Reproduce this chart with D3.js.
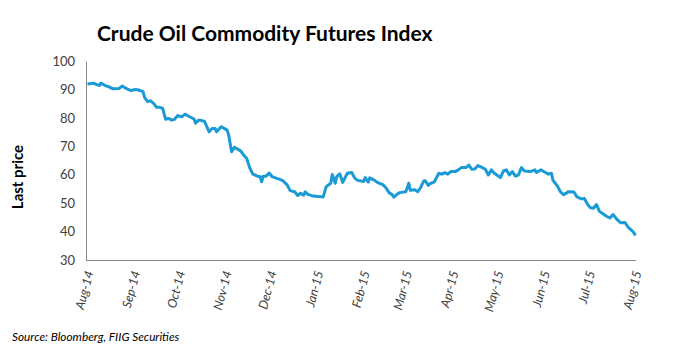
<!DOCTYPE html>
<html>
<head>
<meta charset="utf-8">
<script src="https://cdn.jsdelivr.net/npm/d3@7/dist/d3.min.js"></script>
<style>
  html, body { margin: 0; padding: 0; background: #fff; }
  svg { display: block; }
</style>
</head>
<body>
<svg id="chart" width="682" height="363"></svg>
<script>
const title = "Crude Oil Commodity Futures Index";
const yAxisTitle = "Last price";
const sourceText = "Source: Bloomberg, FIIG Securities";
const yTicks = [30, 40, 50, 60, 70, 80, 90, 100];

const dates = [
"2014-08-02","2014-08-06","2014-08-08","2014-08-10","2014-08-11","2014-08-14","2014-08-16","2014-08-19","2014-08-23","2014-08-25",
"2014-08-28","2014-08-31","2014-09-03","2014-09-05","2014-09-08","2014-09-09","2014-09-11","2014-09-13","2014-09-15","2014-09-17",
"2014-09-19","2014-09-21","2014-09-23","2014-09-25","2014-09-27","2014-09-29","2014-10-01","2014-10-04","2014-10-06","2014-10-09",
"2014-10-12","2014-10-13","2014-10-15","2014-10-16","2014-10-19","2014-10-22","2014-10-24","2014-10-26","2014-10-27","2014-10-30",
"2014-11-03","2014-11-04","2014-11-06","2014-11-08","2014-11-10","2014-11-12","2014-11-14","2014-11-16","2014-11-18","2014-11-20",
"2014-11-23","2014-11-25","2014-11-26","2014-11-27","2014-11-29","2014-12-01","2014-12-03","2014-12-06","2014-12-08","2014-12-10",
"2014-12-13","2014-12-15","2014-12-18","2014-12-20","2014-12-22","2014-12-24","2014-12-25","2014-12-27","2014-12-28","2014-12-30",
"2015-01-03","2015-01-06","2015-01-08","2015-01-11","2015-01-12","2015-01-14","2015-01-15","2015-01-17","2015-01-19","2015-01-22",
"2015-01-25","2015-01-27","2015-01-29","2015-02-02","2015-02-03","2015-02-05","2015-02-06","2015-02-09","2015-02-11","2015-02-15",
"2015-02-17","2015-02-19","2015-02-21","2015-02-22","2015-02-24","2015-02-26","2015-03-02","2015-03-04","2015-03-05","2015-03-08",
"2015-03-10","2015-03-12","2015-03-14","2015-03-15","2015-03-17","2015-03-18","2015-03-21","2015-03-24","2015-03-26","2015-03-28",
"2015-03-30","2015-04-01","2015-04-04","2015-04-06","2015-04-08","2015-04-11","2015-04-13","2015-04-15","2015-04-17","2015-04-19",
"2015-04-22","2015-04-24","2015-04-26","2015-04-28","2015-04-30","2015-05-04","2015-05-06","2015-05-08","2015-05-10","2015-05-12",
"2015-05-14","2015-05-16","2015-05-18","2015-05-20","2015-05-24","2015-05-27","2015-05-28","2015-05-31","2015-06-03","2015-06-05",
"2015-06-07","2015-06-08","2015-06-11","2015-06-13","2015-06-15","2015-06-17","2015-06-18","2015-06-22","2015-06-24","2015-06-27",
"2015-06-29","2015-07-01","2015-07-03","2015-07-05","2015-07-07","2015-07-09","2015-07-12","2015-07-14","2015-07-16","2015-07-18",
"2015-07-21","2015-07-23","2015-07-26","2015-07-28","2015-07-31","2015-08-02"
];

const prices = [
91.9,92.2,91.7,91.4,92.2,91.3,91.0,90.2,90.3,91.2,
90.3,89.6,90.0,89.8,89.2,87.2,85.7,86.0,85.1,83.7,
83.7,83.4,79.5,79.8,79.2,79.5,80.8,80.4,81.3,80.4,
79.6,78.1,79.2,79.2,78.7,75.1,76.3,76.3,75.1,76.9,
75.7,74.0,68.1,69.7,69.0,68.4,66.9,65.8,62.5,60.3,
59.5,59.3,57.5,59.5,59.5,60.6,59.3,58.7,58.4,57.9,
56.4,54.4,54.0,52.7,53.5,52.8,54.0,53.0,52.9,52.5,
52.3,52.2,55.8,57.0,60.1,57.0,59.3,60.3,57.3,60.5,
60.8,58.8,58.0,57.6,59.0,57.4,58.9,58.1,57.3,56.4,
55.2,53.6,53.0,52.1,53.0,53.7,54.0,57.0,54.5,54.7,
54.0,55.6,57.8,57.9,56.2,56.8,57.5,60.5,60.2,60.7,
60.2,61.1,61.1,61.7,62.5,62.5,63.4,61.9,62.0,63.2,
62.5,61.9,59.9,61.7,60.5,59.0,61.3,61.7,59.9,61.1,
59.5,59.9,62.5,61.3,61.1,61.7,60.8,61.7,60.8,60.2,
60.5,58.1,56.0,54.0,53.0,53.5,54.0,53.9,52.2,51.5,
51.6,49.6,48.4,48.2,49.5,47.1,46.0,45.3,44.8,46.0,
44.1,43.1,43.2,41.6,40.2,38.7
];

const parse = d3.utcParse("%Y-%m-%d");
const data = dates.map((d, i) => ({ date: parse(d), value: prices[i] }));

const svg = d3.select("#chart");
const mLeft = 86, mRight = 636, mTop = 61, mBottom = 260;

const x = d3.scaleUtc()
  .domain([parse("2014-08-01"), parse("2015-08-02")])
  .range([mLeft, 635.5]);
const y = d3.scaleLinear().domain([30, 100]).range([mBottom, mTop]);

// Title
svg.append("text")
  .attr("x", 97).attr("y", 41)
  .attr("font-family", "Lato, 'Noto Sans', sans-serif")
  .attr("font-weight", "bold")
  .attr("font-size", 21)
  .attr("fill", "#000")
  .text(title);

// Y axis
const yAxis = svg.append("g")
  .attr("transform", `translate(${mLeft},0)`)
  .call(d3.axisLeft(y).tickValues(yTicks).tickSize(0).tickPadding(11));
yAxis.select(".domain").attr("stroke", "#868686").attr("stroke-width", 1);
yAxis.selectAll("text")
  .attr("font-family", "Lato, 'Noto Sans', sans-serif")
  .attr("font-size", 13)
  .attr("fill", "#404040");

// X axis
const xAxis = svg.append("g")
  .attr("transform", `translate(0,${mBottom})`)
  .call(d3.axisBottom(x)
    .ticks(d3.utcMonth.every(1))
    .tickFormat(d3.utcFormat("%b-%y"))
    .tickSize(0));
xAxis.select(".domain").attr("d", `M${mLeft},0.5H${mRight}`).attr("stroke", "#868686").attr("stroke-width", 1);
xAxis.selectAll("text")
  .attr("font-family", "Lato, 'Noto Sans', sans-serif")
  .attr("font-size", 12.5)
  .attr("font-style", "italic")
  .attr("fill", "#404040")
  .attr("x", 0).attr("y", 0).attr("dy", "0.35em")
  .attr("text-anchor", "end")
  .attr("transform", "translate(3,11) rotate(-75)");

// Y axis title
svg.append("text")
  .attr("transform", "translate(23,177) rotate(-90)")
  .attr("text-anchor", "middle")
  .attr("font-family", "Lato, 'Noto Sans', sans-serif")
  .attr("font-weight", "bold")
  .attr("font-size", 15)
  .attr("fill", "#000")
  .text(yAxisTitle);

// Line
const line = d3.line().x(d => x(d.date)).y(d => y(d.value));
svg.append("path")
  .datum(data)
  .attr("d", line)
  .attr("fill", "none")
  .attr("stroke", "#1b9ad6")
  .attr("stroke-width", 3)
  .attr("stroke-linejoin", "round");

// Source
svg.append("text")
  .attr("x", 12).attr("y", 341)
  .attr("font-family", "Lato, 'Noto Sans', sans-serif")
  .attr("font-style", "italic")
  .attr("font-size", 11.8)
  .attr("fill", "#000")
  .text(sourceText);
</script>
</body>
</html>
